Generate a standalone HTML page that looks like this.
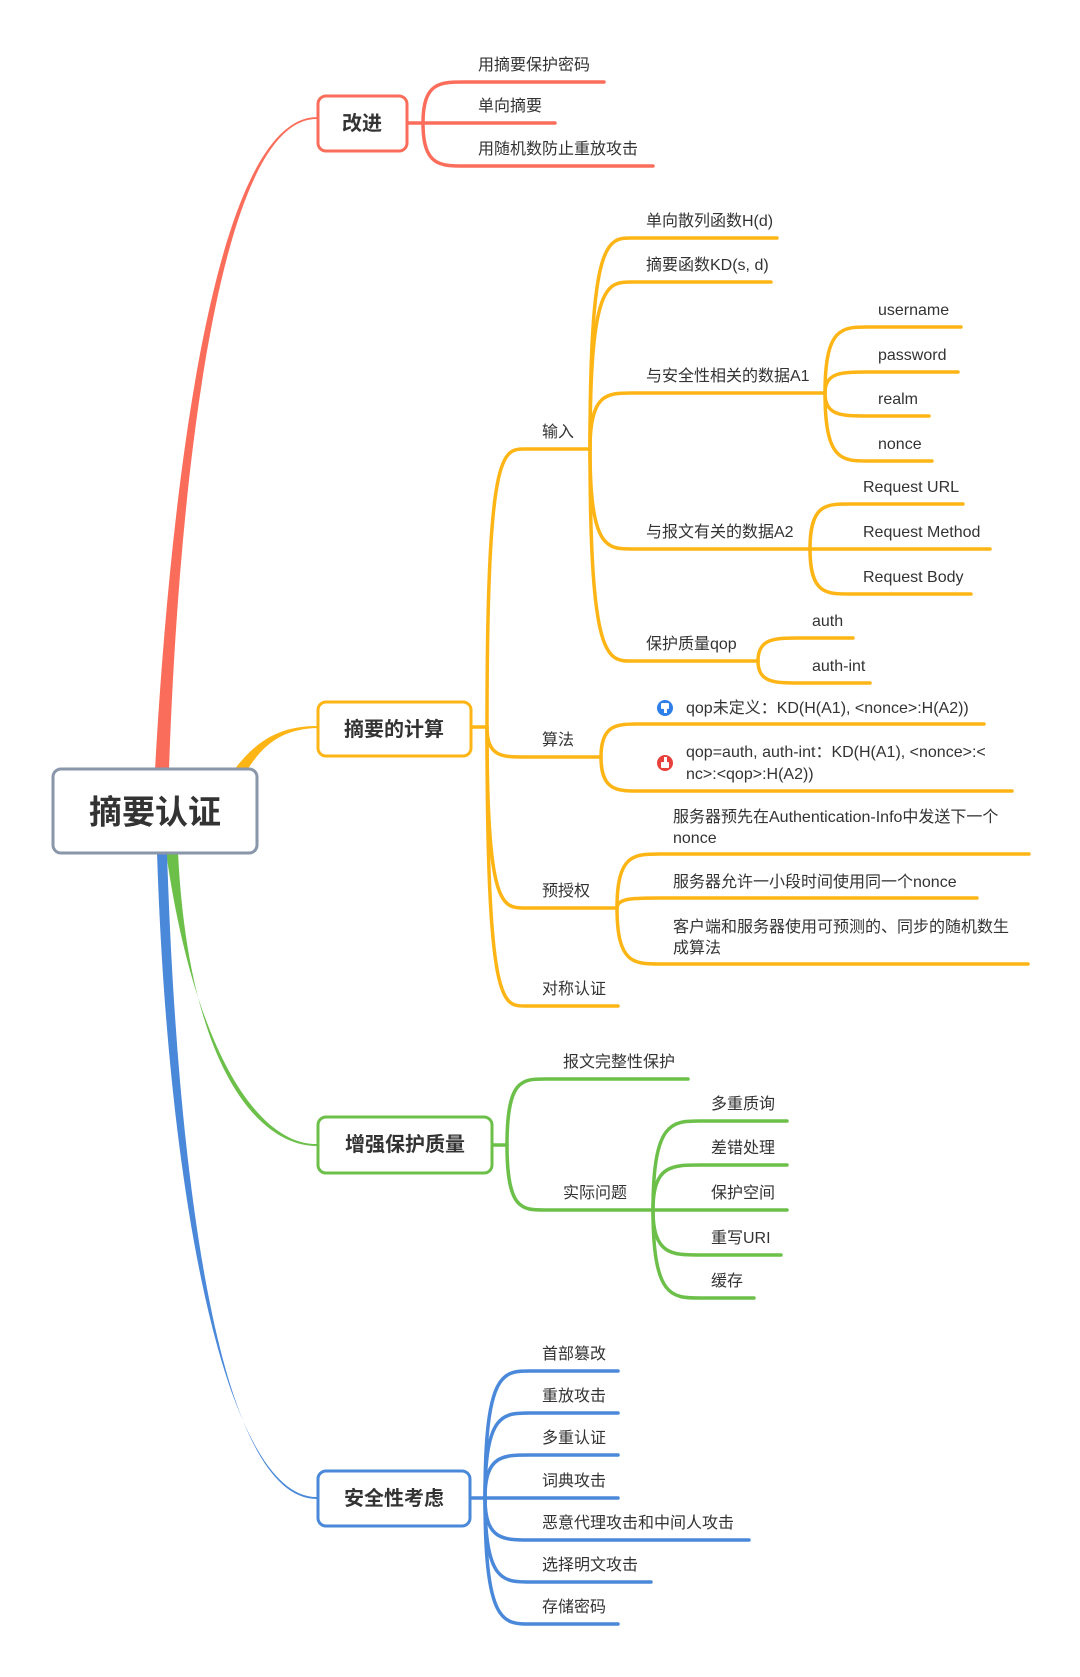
<!DOCTYPE html>
<html><head><meta charset="utf-8"><style>
html,body{margin:0;padding:0;background:#fff;}
svg{display:block;}
text{font-family:"Liberation Sans","Noto Sans CJK SC",sans-serif;fill:#333;font-size:16px;}
.b{font-weight:bold;font-size:20px;}
</style></head><body>
<svg width="1080" height="1677" viewBox="0 0 1080 1677" xmlns="http://www.w3.org/2000/svg">
<rect width="1080" height="1677" fill="#fff"/>
<!-- main connectors (tapered) -->
<path d="M155 770 C170 500 212 118 317 117 L317 119 C216 118 178 500 169 770 Z" fill="#fb6d5b"/>
<path d="M234 770 C258 738 283 726 317 726 L317 728 C285 729 264 742 246 772 Z" fill="#fdb515"/>
<path d="M166 852 C194 1050 258 1145 317 1144 L317 1146 C255 1146 188 1060 178 852 Z" fill="#6cc04a"/>
<path d="M157 852 C168 1200 226 1498 317 1497 L317 1499 C222 1499 178 1200 167 852 Z" fill="#4a88d9"/>

<g fill="none" stroke-linecap="round">
<!-- red -->
<g stroke="#fb6d5b" stroke-width="3.5">
<path d="M408 123 L423 123"/>
<path d="M423 123 C423 82 440 82 465 82 L604 82"/>
<path d="M423 123 L555 123"/>
<path d="M423 123 C423 166 440 166 465 166 L653 166"/>
</g>
<!-- orange -->
<g stroke="#fdb515" stroke-width="3.5">
<path d="M472 727 L487 727"/>
<path d="M487 727 C487 449 502 449 525 449 L590 449"/>
<path d="M487 727 C487 757 502 757 525 757 L601 757"/>
<path d="M487 727 C487 908 502 908 525 908 L617 908"/>
<path d="M487 727 C487 1006 502 1006 525 1006 L618 1006"/>
<path d="M590 449 C590 238 607 238 632 238 L777 238"/>
<path d="M590 449 C590 282 607 282 632 282 L771 282"/>
<path d="M590 449 C590 393 607 393 632 393 L825 393"/>
<path d="M590 449 C590 549 607 549 632 549 L810 549"/>
<path d="M590 449 C590 661 607 661 632 661 L758 661"/>
<path d="M825 393 C825 327 842 327 868 327 L961 327"/>
<path d="M825 393 C825 372 842 372 868 372 L958 372"/>
<path d="M825 393 C825 416 842 416 868 416 L929 416"/>
<path d="M825 393 C825 461 842 461 868 461 L932 461"/>
<path d="M810 549 C810 504 826 504 850 504 L963 504"/>
<path d="M810 549 L990 549"/>
<path d="M810 549 C810 594 826 594 850 594 L971 594"/>
<path d="M758 661 C758 638 775 638 800 638 L853 638"/>
<path d="M758 661 C758 683 775 683 800 683 L870 683"/>
<path d="M601 757 C601 724 617 724 640 724 L984 724"/>
<path d="M601 757 C601 791 617 791 640 791 L1012 791"/>
<path d="M617 908 C617 854 634 854 660 854 L1029 854"/>
<path d="M617 908 C617 898 634 898 660 898 L977 898"/>
<path d="M617 908 C617 964 634 964 660 964 L1028 964"/>
</g>
<!-- green -->
<g stroke="#6cc04a" stroke-width="3.5">
<path d="M493 1145 L507 1145"/>
<path d="M507 1145 C507 1079 522 1079 545 1079 L688 1079"/>
<path d="M507 1145 C507 1210 522 1210 545 1210 L653 1210"/>
<path d="M653 1210 C653 1121 672 1121 700 1121 L787 1121"/>
<path d="M653 1210 C653 1165 672 1165 700 1165 L787 1165"/>
<path d="M653 1210 L787 1210"/>
<path d="M653 1210 C653 1255 672 1255 700 1255 L781 1255"/>
<path d="M653 1210 C653 1298 672 1298 700 1298 L754 1298"/>
</g>
<!-- blue -->
<g stroke="#4a88d9" stroke-width="3.5">
<path d="M471 1498 L485 1498"/>
<path d="M485 1498 C485 1371 503 1371 530 1371 L618 1371"/>
<path d="M485 1498 C485 1413 503 1413 530 1413 L618 1413"/>
<path d="M485 1498 C485 1455 503 1455 530 1455 L618 1455"/>
<path d="M485 1498 L618 1498"/>
<path d="M485 1498 C485 1540 503 1540 530 1540 L749 1540"/>
<path d="M485 1498 C485 1582 503 1582 530 1582 L651 1582"/>
<path d="M485 1498 C485 1624 503 1624 530 1624 L618 1624"/>
</g>
</g>

<!-- boxes -->
<rect x="53" y="769" width="204" height="84" rx="8" fill="#fff" stroke="#8a96aa" stroke-width="3"/>
<text x="155" y="812" text-anchor="middle" dominant-baseline="central" style="font-size:33px;font-weight:bold">摘要认证</text>
<rect x="318" y="96" width="89" height="55" rx="8" fill="#fff" stroke="#fb6d5b" stroke-width="3"/>
<text class="b" x="362" y="124" text-anchor="middle" dominant-baseline="central">改进</text>
<rect x="318" y="702" width="153" height="54" rx="8" fill="#fff" stroke="#fdb515" stroke-width="3"/>
<text class="b" x="394" y="730" text-anchor="middle" dominant-baseline="central">摘要的计算</text>
<rect x="318" y="1117" width="174" height="56" rx="8" fill="#fff" stroke="#6cc04a" stroke-width="3"/>
<text class="b" x="405" y="1145" text-anchor="middle" dominant-baseline="central">增强保护质量</text>
<rect x="318" y="1471" width="152" height="55" rx="8" fill="#fff" stroke="#4a88d9" stroke-width="3"/>
<text class="b" x="394" y="1499" text-anchor="middle" dominant-baseline="central">安全性考虑</text>

<!-- red texts -->
<text x="478" y="70">用摘要保护密码</text>
<text x="478" y="111">单向摘要</text>
<text x="478" y="154">用随机数防止重放攻击</text>
<!-- orange -->
<text x="542" y="437">输入</text>
<text x="542" y="745">算法</text>
<text x="542" y="896">预授权</text>
<text x="542" y="994">对称认证</text>
<text x="646" y="226">单向散列函数H(d)</text>
<text x="646" y="270">摘要函数KD(s, d)</text>
<text x="646" y="381">与安全性相关的数据A1</text>
<text x="646" y="537">与报文有关的数据A2</text>
<text x="646" y="649">保护质量qop</text>
<text x="878" y="315">username</text>
<text x="878" y="360">password</text>
<text x="878" y="404">realm</text>
<text x="878" y="449">nonce</text>
<text x="863" y="492">Request URL</text>
<text x="863" y="537">Request Method</text>
<text x="863" y="582">Request Body</text>
<text x="812" y="626">auth</text>
<text x="812" y="671">auth-int</text>
<circle cx="665" cy="708" r="8" fill="#2f7fe8"/>
<rect x="661" y="703" width="8" height="6" rx="1" fill="#fff"/><rect x="664" y="708" width="3" height="5" fill="#fff"/>
<circle cx="665" cy="763" r="8" fill="#e8413c"/>
<rect x="661" y="762" width="8" height="6" rx="1" fill="#fff"/><rect x="664" y="757" width="3" height="5" fill="#fff"/>
<text x="686" y="713">qop未定义：KD(H(A1), &lt;nonce&gt;:H(A2))</text>
<text x="686" y="757">qop=auth, auth-int：KD(H(A1), &lt;nonce&gt;:&lt;</text>
<text x="686" y="779">nc&gt;:&lt;qop&gt;:H(A2))</text>
<text x="673" y="822">服务器预先在Authentication-Info中发送下一个</text>
<text x="673" y="843">nonce</text>
<text x="673" y="887">服务器允许一小段时间使用同一个nonce</text>
<text x="673" y="932">客户端和服务器使用可预测的、同步的随机数生</text>
<text x="673" y="953">成算法</text>
<!-- green -->
<text x="563" y="1067">报文完整性保护</text>
<text x="563" y="1198">实际问题</text>
<text x="711" y="1109">多重质询</text>
<text x="711" y="1153">差错处理</text>
<text x="711" y="1198">保护空间</text>
<text x="711" y="1243">重写URI</text>
<text x="711" y="1286">缓存</text>
<!-- blue -->
<text x="542" y="1359">首部篡改</text>
<text x="542" y="1401">重放攻击</text>
<text x="542" y="1443">多重认证</text>
<text x="542" y="1486">词典攻击</text>
<text x="542" y="1528">恶意代理攻击和中间人攻击</text>
<text x="542" y="1570">选择明文攻击</text>
<text x="542" y="1612">存储密码</text>
</svg>
</body></html>
